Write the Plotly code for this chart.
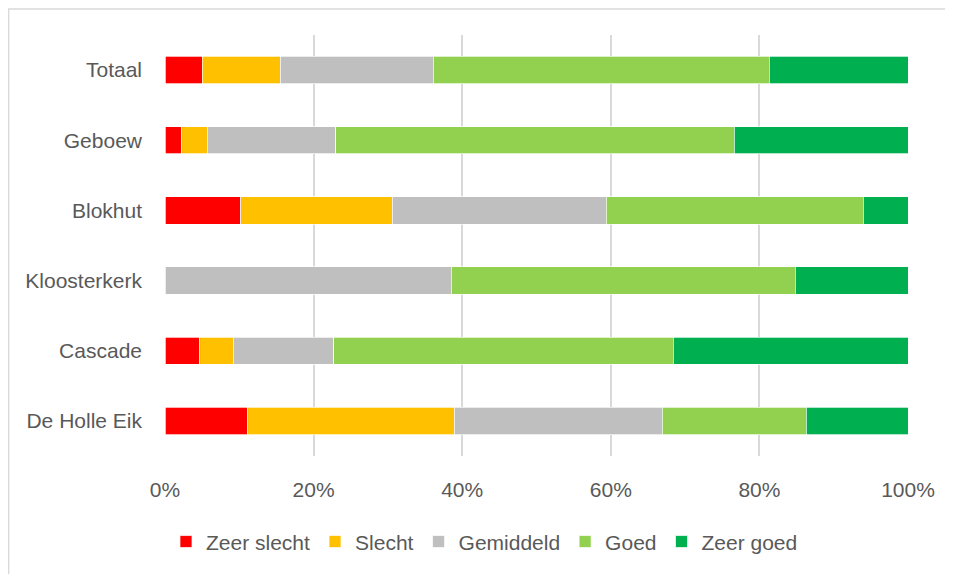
import plotly.graph_objects as go

# categories, top to bottom
locaties = ["Totaal", "Geboew", "Blokhut", "Kloosterkerk", "Cascade", "De Holle Eik"]

# share of answers per location (%)
zeer_slecht = [5.0, 2.2, 10.2, 0.0, 4.6, 11.1]
slecht = [10.5, 3.5, 20.4, 0.0, 4.6, 27.8]
gemiddeld = [20.6, 17.3, 28.8, 38.5, 13.5, 28.0]
goed = [45.2, 53.6, 34.6, 46.3, 45.7, 19.4]
zeer_goed = [18.7, 23.4, 6.0, 15.2, 31.6, 13.7]

x_ticks = [0, 20, 40, 60, 80, 100]
x_labels = ["0%", "20%", "40%", "60%", "80%", "100%"]

series = [
    ("Zeer slecht", zeer_slecht, "#FF0000"),
    ("Slecht", slecht, "#FFC000"),
    ("Gemiddeld", gemiddeld, "#BFBFBF"),
    ("Goed", goed, "#92D050"),
    ("Zeer goed", zeer_goed, "#00B050"),
]

fig = go.Figure()
for naam, waarden, kleur in series:
    fig.add_trace(go.Bar(
        name=naam,
        y=locaties,
        x=waarden,
        orientation="h",
        marker=dict(color=kleur, line=dict(color="#FFFFFF", width=0.7)),
    ))

# light chart-area frame, only the top and left edges fall inside the picture
fig.add_shape(type="path", xref="paper", yref="paper",
              path="M -0.2105,-0.6 L -0.2105,1.062 L 1.4,1.062",
              line=dict(color="#D9D9D9", width=1.5), layer="below")

fig.update_layout(
    width=945,
    height=566,
    barmode="stack",
    bargap=0.61,
    plot_bgcolor="white",
    paper_bgcolor="white",
    font=dict(family="Liberation Sans, Arial, sans-serif", size=21, color="#595959"),
    margin=dict(l=157, r=45, t=27, b=118),
    legend=dict(
        orientation="h",
        x=0.43, xanchor="center",
        y=-0.204, yanchor="middle",
        traceorder="normal",
        font=dict(size=21, color="#595959"),
        itemwidth=30,
    ),
    xaxis=dict(
        range=[0, 100],
        tickvals=x_ticks,
        ticktext=x_labels,
        showgrid=True,
        gridcolor="#D9D9D9",
        gridwidth=1.5,
        zeroline=False,
        showline=False,
        ticks="",
        ticklabelstandoff=19,
        fixedrange=True,
    ),
    yaxis=dict(
        categoryorder="array",
        categoryarray=locaties,
        autorange="reversed",
        showgrid=False,
        showline=False,
        ticks="",
        ticklabelstandoff=22,
        fixedrange=True,
    ),
)

fig.write_html("out.html")
